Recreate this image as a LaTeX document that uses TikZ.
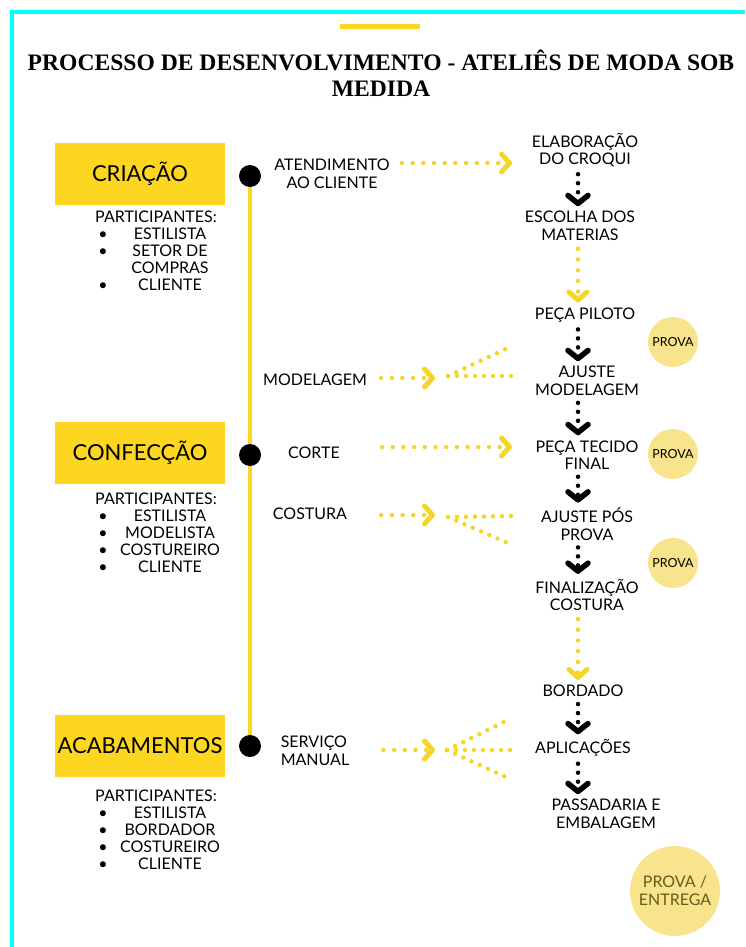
\documentclass[tikz,border=0pt]{standalone}
\usepackage{fontspec}
\setmainfont{Lato}
\newfontfamily\titlefont{Liberation Serif}
\usetikzlibrary{positioning}
\usetikzlibrary{arrows.meta}
\definecolor{gold}{RGB}{252,214,32}
\definecolor{dotyellow}{RGB}{247,213,40}
\definecolor{paleyellow}{RGB}{248,228,140}
\definecolor{framecyan}{RGB}{0,255,255}
\definecolor{olive}{RGB}{105,90,30}
\tikzstyle{titletext} = [align=center, inner sep=0pt, font={\titlefont\bfseries\fontsize{23.6}{26}\selectfont}]
\tikzstyle{stagebox} = [fill=gold, minimum width=170pt, minimum height=62pt, inner sep=0pt, font=\fontsize{22}{26}\selectfont]
\tikzstyle{partlist} = [inner sep=0pt, font=\fontsize{16}{17}\selectfont]
\tikzstyle{steptext} = [align=center, inner sep=2pt, font=\fontsize{16}{17.5}\selectfont]
\tikzstyle{bigdot} = [circle, fill=black, minimum size=22pt, inner sep=0pt]
\tikzstyle{prova} = [circle, fill=paleyellow, minimum size=50pt, inner sep=0pt, font=\fontsize{12.5}{14}\selectfont]
\tikzstyle{timeline} = [gold, line width=3.5pt]
\tikzstyle{yeldots} = [dotyellow, line width=4.5pt, line cap=round, dash pattern=on 0pt off 9pt]
\tikzstyle{yelarrow} = [yeldots, dash pattern=on 0pt off 10.7pt, -{Straight Barb[length=8pt, width=18pt, line width=5pt, round]}]
\tikzstyle{blkarrow} = [black, line width=4.5pt, line cap=round, dash pattern=on 0pt off 9pt, shorten <=5pt, shorten >=3pt, -{Straight Barb[length=8pt, width=20pt, line width=5.5pt, round]}]
\newcommand{\parthead}{\multicolumn{2}{@{}c@{}}{\makebox[111pt]{PARTICIPANTES:}}\\}
\newcommand{\partitem}[1]{\makebox[5pt]{\textbullet} & \makebox[83pt]{#1}\\}
\newcommand{\partmore}[1]{ & \makebox[83pt]{#1}\\}

\begin{document}
\begin{tikzpicture}[x=1pt, y=-1pt]
    \useasboundingbox (0,0) rectangle (745,947);

    % Frame and title
    \draw[framecyan, line width=4pt] (745,12) -- (12,12) -- (12,947);
    \draw[gold, line width=5pt] (340,27) -- (420,27);
    \node[titletext] (title) at (381,73) {PROCESSO DE DESENVOLVIMENTO - ATELIÊS DE MODA SOB\\MEDIDA};

    % Stages (yellow boxes)
    \node[stagebox] (criacao) at (140,174) {CRIAÇÃO};
    \node[stagebox] (confeccao) at (140,453) {CONFECÇÃO};
    \node[stagebox] (acabamentos) at (140,746) {ACABAMENTOS};

    % Participants
    \node[partlist] (crialist) at (156,253) {\begin{tabular}{@{}c@{\hspace{23pt}}c@{}}
        \parthead \partitem{ESTILISTA} \partitem{SETOR DE} \partmore{COMPRAS} \partitem{CLIENTE}
    \end{tabular}};
    \node[partlist] (conflist) at (156,535) {\begin{tabular}{@{}c@{\hspace{23pt}}c@{}}
        \parthead \partitem{ESTILISTA} \partitem{MODELISTA} \partitem{COSTUREIRO} \partitem{CLIENTE}
    \end{tabular}};
    \node[partlist] (acablist) at (156,832) {\begin{tabular}{@{}c@{\hspace{23pt}}c@{}}
        \parthead \partitem{ESTILISTA} \partitem{BORDADOR} \partitem{COSTUREIRO} \partitem{CLIENTE}
    \end{tabular}};

    % Timeline
    \node[bigdot] (dot1) at (250,176) {};
    \node[bigdot] (dot2) at (250,455) {};
    \node[bigdot] (dot3) at (250,746) {};
    \draw[timeline] (dot1) -- (dot2);
    \draw[timeline] (dot2) -- (dot3);

    % Activities
    \node[steptext] (atend) at (332,174) {ATENDIMENTO\\AO CLIENTE};
    \node[steptext] (model) at (315,380) {MODELAGEM};
    \node[steptext] (corte) at (314,453) {CORTE};
    \node[steptext] (costura) at (310,514) {COSTURA};
    \node[steptext, align=left] (servico) at (315,751) {SERVIÇO\\MANUAL};

    % Steps (right column)
    \node[steptext] (croqui) at (585,150) {ELABORAÇÃO\\DO CROQUI};
    \node[steptext] (escolha) at (580,226) {ESCOLHA DOS\\MATERIAS};
    \node[steptext] (piloto) at (585,315) {PEÇA PILOTO};
    \node[steptext] (ajuste) at (587,381) {AJUSTE\\MODELAGEM};
    \node[steptext] (tecido) at (587,455) {PEÇA TECIDO\\FINAL};
    \node[steptext] (pos) at (587,524) {AJUSTE PÓS\\PROVA};
    \node[steptext] (final) at (587,595) {FINALIZAÇÃO\\COSTURA};
    \node[steptext] (bordado) at (583,691) {BORDADO};
    \node[steptext] (aplic) at (583,748) {APLICAÇÕES};
    \node[steptext] (passa) at (606,814) {PASSADARIA E\\EMBALAGEM};

    % Fittings
    \node[prova] (prova1) at (673,342) {PROVA};
    \node[prova] (prova2) at (673,454) {PROVA};
    \node[prova] (prova3) at (673,563) {PROVA};
    \node[prova, minimum size=90pt, text=olive, align=center, font=\fontsize{16}{18}\selectfont] (entrega) at (675,891) {PROVA /\\ENTREGA};

    % Step arrows
    \coordinate (colx) at (578,0);
    \foreach \a/\b in {croqui/escolha, piloto/ajuste, ajuste/tecido, tecido/pos, pos/final, bordado/aplic, aplic/passa}
        \draw[blkarrow] (\a.south -| colx) -- (\b.north -| colx);
    \draw[yelarrow, shorten <=6pt, shorten >=3pt] (escolha.south -| colx) -- (piloto.north -| colx);
    \draw[yelarrow, shorten <=6pt, shorten >=3pt] (final.south -| colx) -- (bordado.north -| colx);

    % Activity arrows
    \coordinate (atendtip) at (512,163);
    \coordinate (cortetip) at (512,447);
    \coordinate (modtip) at (435,378);
    \coordinate (costip) at (435,515);
    \coordinate (servtip) at (435,750);
    \draw[yelarrow, shorten <=10pt] (atend.east |- atendtip) -- (atendtip);
    \draw[yelarrow, shorten <=40pt] (corte.east |- cortetip) -- (cortetip);
    \draw[yelarrow, shorten <=12pt] (model.east |- modtip) -- (modtip);
    \draw[yelarrow, shorten <=32pt] (costura.east |- costip) -- (costip);
    \draw[yelarrow, shorten <=32pt] (servico.east |- servtip) -- (servtip);

    % Fans
    \coordinate (modfan) at (448,376);
    \coordinate (modfanup) at (510,347);
    \coordinate (modfanmid) at (515,376);
    \draw[yeldots] (modfan) -- (modfanup);
    \draw[yeldots] (modfan) -- (modfanmid);
    \coordinate (cosfan) at (448,517);
    \coordinate (cosfanmid) at (517,516);
    \coordinate (cosfandown) at (510,544);
    \draw[yeldots] (cosfan) -- (cosfanmid);
    \draw[yeldots] (cosfan) -- (cosfandown);
    \coordinate (servfan) at (447,750);
    \coordinate (servfanup) at (508,720);
    \coordinate (servfanmid) at (516,750);
    \coordinate (servfandown) at (508,778);
    \draw[yeldots] (servfan) -- (servfanup);
    \draw[yeldots] (servfan) -- (servfanmid);
    \draw[yeldots] (servfan) -- (servfandown);
\end{tikzpicture}
\end{document}
